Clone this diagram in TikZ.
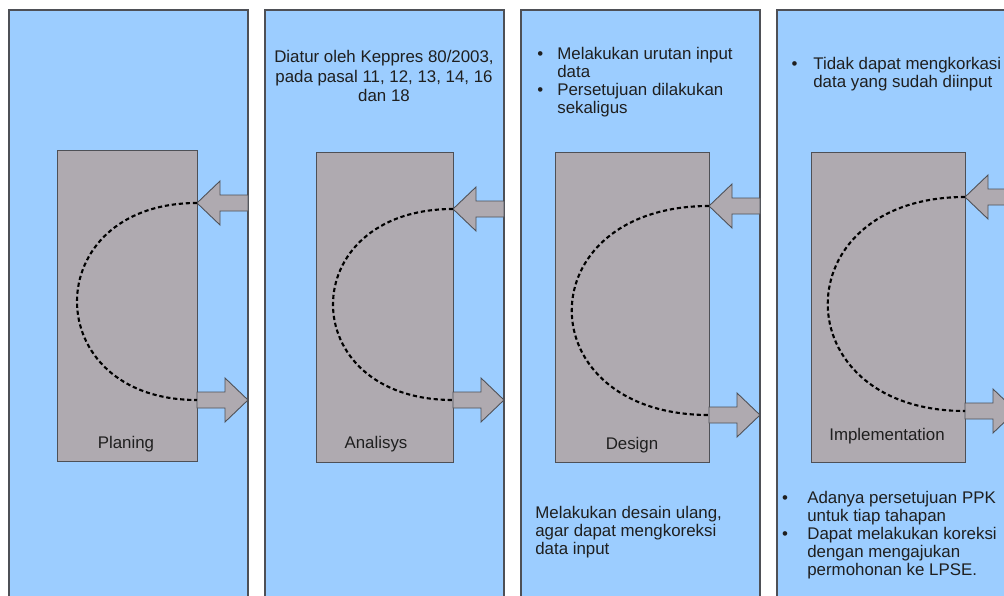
\documentclass[tikz,border=0pt]{standalone}
\usepackage{fontspec}
\setmainfont{Liberation Sans}
\definecolor{panelblue}{RGB}{156,205,255}
\definecolor{boxgray}{RGB}{175,170,176}
\definecolor{edgegray}{RGB}{78,80,86}
\newcommand{\itembul}[1][8pt]{\llap{\textbullet\hspace{#1}}}
\begin{document}
\begin{tikzpicture}[x=0.02cm,y=-0.02cm,
                panel/.style = {draw=edgegray, fill=panelblue, line width=0.6pt},
                phase/.style = {draw=edgegray, fill=boxgray, line width=0.6pt,
                                inner sep=0, anchor=north west},
                blockarrow/.style = {draw=edgegray, fill=boxgray, line width=0.5pt},
                feedback/.style = {line width=1.2pt, dash pattern=on 2.4pt off 1.6pt},
                note/.style = {align=left, anchor=north west, inner sep=0},
                every node/.style = {font=\fontsize{9.6}{10.3}\selectfont, text=black!88}
            ]
            \useasboundingbox (0,0) rectangle (1004,595);
            \clip (0,0) rectangle (1004,595);

            % four panels
            \foreach \px in {9,265,521,777}
                \draw[panel] (\px,10) rectangle ++(239,600);

            % phase boxes
            \node[phase, minimum width=2.8cm, minimum height=6.22cm] (plan) at (57,150) {};
            \node[phase, minimum width=2.74cm, minimum height=6.2cm] (anal) at (316,152) {};
            \node[phase, minimum width=3.08cm, minimum height=6.2cm] (desg) at (555,152) {};
            \node[phase, minimum width=3.08cm, minimum height=6.2cm] (impl) at (811,152) {};

            \node (planlbl) at (126,444) {Planing};
            \node (anallbl) at (376,444) {Analisys};
            \node (desglbl) at (632,445) {Design};
            \node (impllbl) at (887,436) {Implementation};

            % arrows in and out, with the dashed loop between them
            \foreach \b/\yi/\yo/\w/\s [count=\i] in {197/203/400/160/28, 453/209/400/160/28,
                                                      709/206/415/183/28, 965/197/411/183/60} {
                \coordinate (in\i) at (\b,\yi);
                \coordinate (out\i) at (\b,\yo);
                \draw[blockarrow] (in\i) -- ++(23,-22) -- ++(0,14) -- ++(\s,0) -- ++(0,16)
                    -- ++(-\s,0) -- ++(0,14) -- cycle;
                \draw[blockarrow] (out\i) ++(0,-8) -- ++(28,0) -- ++(0,-14) -- ++(23,22)
                    -- ++(-23,22) -- ++(0,-14) -- ++(-28,0) -- cycle;
                \draw[feedback] (in\i) .. controls +(-\w,0) and +(-\w,0) .. (out\i);
            }

            % notes
            \node[align=center, font=\fontsize{9.6}{11.2}\selectfont] (analnote) at (384,76)
                {Diatur oleh Keppres 80/2003,\\pada pasal 11, 12, 13, 14, 16\\dan 18};
            \node[note] (desgnote) at (557,47)
                {\itembul Melakukan urutan input\\data\\\itembul Persetujuan dilakukan\\sekaligus};
            \node[note] (implnote) at (813,57)
                {\itembul[9pt]Tidak dapat mengkorkasi\\data yang sudah diinput};
            \node[note] (redesign) at (535,506)
                {Melakukan desain ulang,\\agar dapat mengkoreksi\\data input};
            \node[note] (approval) at (807,491)
                {\itembul[11pt]Adanya persetujuan PPK\\untuk tiap tahapan\\\itembul[11pt]Dapat melakukan koreksi\\dengan mengajukan\\permohonan ke LPSE.};
        \end{tikzpicture}
\end{document}
